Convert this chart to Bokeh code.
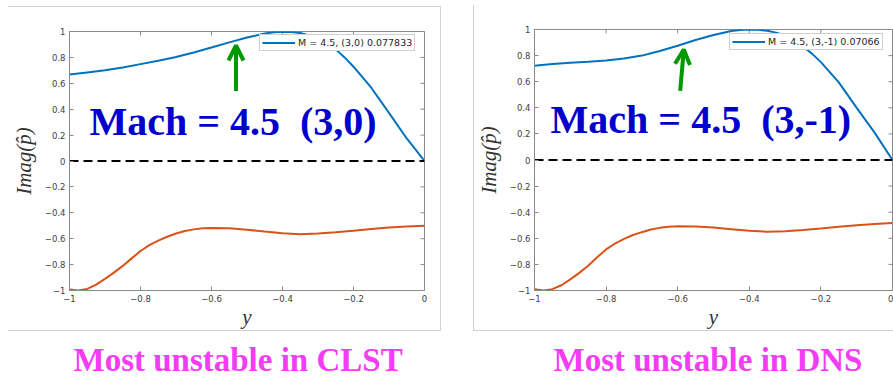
import math
from bokeh.plotting import figure
from bokeh.models import (Range1d, FixedTicker, Legend, LegendItem,
                          Label, Arrow, OpenHead)
from bokeh.layouts import row, column
from bokeh.embed import file_html
from bokeh.resources import INLINE

# ---------------- data ----------------
x_ticks = [-1, -0.8, -0.6, -0.4, -0.2, 0]
y_ticks = [-1, -0.8, -0.6, -0.4, -0.2, 0, 0.2, 0.4, 0.6, 0.8, 1]

x_blue = [-1, -0.95, -0.9, -0.85, -0.8, -0.75, -0.7, -0.65, -0.6, -0.55, -0.5, -0.45,
          -0.425, -0.4, -0.375, -0.35, -0.325, -0.3, -0.275, -0.25, -0.225, -0.2,
          -0.15, -0.1, -0.05, 0]
blue_clst = [0.668, 0.684, 0.700, 0.722, 0.748, 0.774, 0.803, 0.838, 0.876, 0.916,
             0.953, 0.984, 0.994, 0.998, 0.996, 0.988, 0.970, 0.944, 0.908, 0.862,
             0.800, 0.728, 0.566, 0.372, 0.174, 0.0]
blue_dns = [0.722, 0.735, 0.745, 0.752, 0.762, 0.778, 0.800, 0.835, 0.875, 0.920,
            0.958, 0.988, 0.997, 1.0, 0.998, 0.990, 0.976, 0.955, 0.918, 0.870,
            0.815, 0.750, 0.595, 0.400, 0.210, 0.0]

x_orange = [-1, -0.975, -0.95, -0.925, -0.9, -0.875, -0.85, -0.825, -0.8, -0.775,
            -0.75, -0.725, -0.7, -0.675, -0.65, -0.625, -0.6, -0.55, -0.5, -0.45,
            -0.4, -0.35, -0.3, -0.25, -0.2, -0.15, -0.1, -0.05, 0]
orange_clst = [-0.993, -1.0, -0.988, -0.955, -0.91, -0.862, -0.81, -0.752, -0.695, -0.65,
               -0.615, -0.585, -0.56, -0.54, -0.528, -0.52, -0.518, -0.52, -0.53, -0.545,
               -0.557, -0.565, -0.56, -0.55, -0.538, -0.525, -0.513, -0.505, -0.5]
orange_dns = [-0.99, -1.0, -0.99, -0.96, -0.915, -0.865, -0.81, -0.745, -0.685, -0.64,
              -0.605, -0.575, -0.553, -0.533, -0.52, -0.512, -0.508, -0.51, -0.518, -0.53,
              -0.543, -0.55, -0.546, -0.537, -0.525, -0.512, -0.5, -0.49, -0.482]

zero_x = [-1, 0]
zero_y = [0, 0]

legend_clst = "M = 4.5, (3,0) 0.077833"
legend_dns = "M = 4.5, (3,-1) 0.07066"
title_clst = "Mach = 4.5 \u00a0(3,0)"
title_dns = "Mach = 4.5 \u00a0(3,-1)"
caption_clst = "Most unstable in CLST"
caption_dns = "Most unstable in DNS"

BLUE = "#0072BD"
ORANGE = "#D95319"
GREEN = "#009900"
NAVY = "#0000CC"
MAGENTA = "#F53CF5"
AXIS = "#8a8a8a"
TICKTXT = "#404040"
PANEL = "#d2d2d2"


def make_panel(width, height, margin, shadow, mb, blue, orange, leg_text, leg_loc,
               title, title_xy, arrow):
    p = figure(width=width, height=height, x_range=Range1d(-1, 0), y_range=Range1d(-1, 1),
               output_backend="svg", toolbar_location=None,
               min_border_left=mb[0], min_border_right=mb[1],
               min_border_top=mb[2], min_border_bottom=mb[3])
    p.frame_align = False
    p.margin = margin
    p.styles = {"box-shadow": shadow}
    p.grid.visible = False
    p.background_fill_color = "white"
    p.border_fill_alpha = 0
    p.outline_line_color = AXIS
    p.outline_line_width = 1

    xa = p.xaxis[0]
    ya = p.yaxis[0]
    for ax in (xa, ya):
        ax.major_tick_in = 4
        ax.major_tick_out = 0
        ax.minor_tick_line_color = None
        ax.axis_line_color = AXIS
        ax.major_tick_line_color = AXIS
        ax.major_label_text_font = "DejaVu Sans"
        ax.major_label_text_font_size = "8.5px"
        ax.major_label_text_color = TICKTXT
        ax.major_label_standoff = 4
        ax.axis_label_text_font = "Liberation Serif"
        ax.axis_label_text_font_style = "italic"
        ax.axis_label_text_font_size = "21px"
        ax.axis_label_text_color = "#333333"
    xa.ticker = FixedTicker(ticks=x_ticks)
    ya.ticker = FixedTicker(ticks=y_ticks)
    xa.axis_label = "y"
    ya.axis_label = "Imag(p\u0302)"
    xa.axis_label_standoff = 0
    ya.axis_label_standoff = 6

    # mirror (inward) ticks on the top and right edges of the box;
    # the outer half of each dash is clipped by the frame
    p.scatter(x_ticks, [1] * len(x_ticks), marker="dash", size=8, angle=math.pi / 2,
              line_color=AXIS, line_width=1)
    p.scatter([0] * len(y_ticks), y_ticks, marker="dash", size=8,
              line_color=AXIS, line_width=1)

    r_blue = p.line(x_blue, blue, line_color=BLUE, line_width=2)
    p.line(x_orange, orange, line_color=ORANGE, line_width=2)
    p.line(zero_x, zero_y, line_color="black", line_width=2, line_dash="9 5")

    leg = Legend(items=[LegendItem(label=leg_text, renderers=[r_blue])],
                 location=leg_loc, orientation="vertical")
    leg.label_text_font = "DejaVu Sans"
    leg.label_text_font_size = "9.5px"
    leg.label_text_color = "#262626"
    leg.label_height = 9
    leg.label_standoff = 3
    leg.glyph_width = 33
    leg.glyph_height = 9
    leg.padding = 2
    leg.margin = 0
    leg.spacing = 0
    leg.border_line_color = "#a0a0a0"
    leg.border_line_width = 1
    leg.background_fill_color = "white"
    leg.background_fill_alpha = 1
    p.add_layout(leg, "center")

    p.add_layout(Label(x=title_xy[0], y=title_xy[1], text=title, text_font="Liberation Serif",
                       text_font_style="bold", text_font_size="40px", text_color=NAVY,
                       text_align="left", text_baseline="alphabetic"))

    (xs, ys, xe, ye) = arrow
    p.add_layout(Arrow(end=OpenHead(size=15, line_color=GREEN, line_width=4),
                       x_start=xs, y_start=ys, x_end=xe, y_end=ye,
                       line_color=GREEN, line_width=4))
    return p


def make_caption(width, text, left_x):
    c = figure(width=width, height=48, x_range=Range1d(0, width), y_range=Range1d(0, 48),
               output_backend="svg", toolbar_location=None,
               x_axis_location=None, y_axis_location=None, min_border=0)
    c.frame_align = False
    c.grid.visible = False
    c.outline_line_color = None
    c.background_fill_color = "white"
    c.border_fill_color = "white"
    c.add_layout(Label(x=left_x, y=20, text=text, text_font="Liberation Serif",
                       text_font_style="bold", text_font_size="33px", text_color=MAGENTA,
                       text_align="left", text_baseline="alphabetic"))
    return c


p1 = make_panel(433, 325, (6, 0, 0, 8),
                f"inset 0 1px 0 {PANEL}, inset -1px 0 0 {PANEL}, inset 0 -1px 0 {PANEL}",
                (60, 17, 25, 40), blue_clst, orange_clst, legend_clst, (190, 239),
                title_clst, (-0.944, 0.308), (-0.531, 0.541, -0.531, 0.892))
p2 = make_panel(420, 326, (5, 0, 0, 32),
                f"inset 1px 0 0 {PANEL}, inset 0 -1px 0 {PANEL}",
                (60, 1, 24, 40), blue_dns, orange_dns, legend_dns, (195, 240),
                title_dns, (-0.955, 0.313), (-0.593, 0.530, -0.583, 0.847))
c1 = make_caption(441, caption_clst, 73)
c2 = make_caption(452, caption_dns, 112)

layout = row(column(p1, c1), column(p2, c2))
open("out.html", "w").write(file_html(layout, INLINE))
